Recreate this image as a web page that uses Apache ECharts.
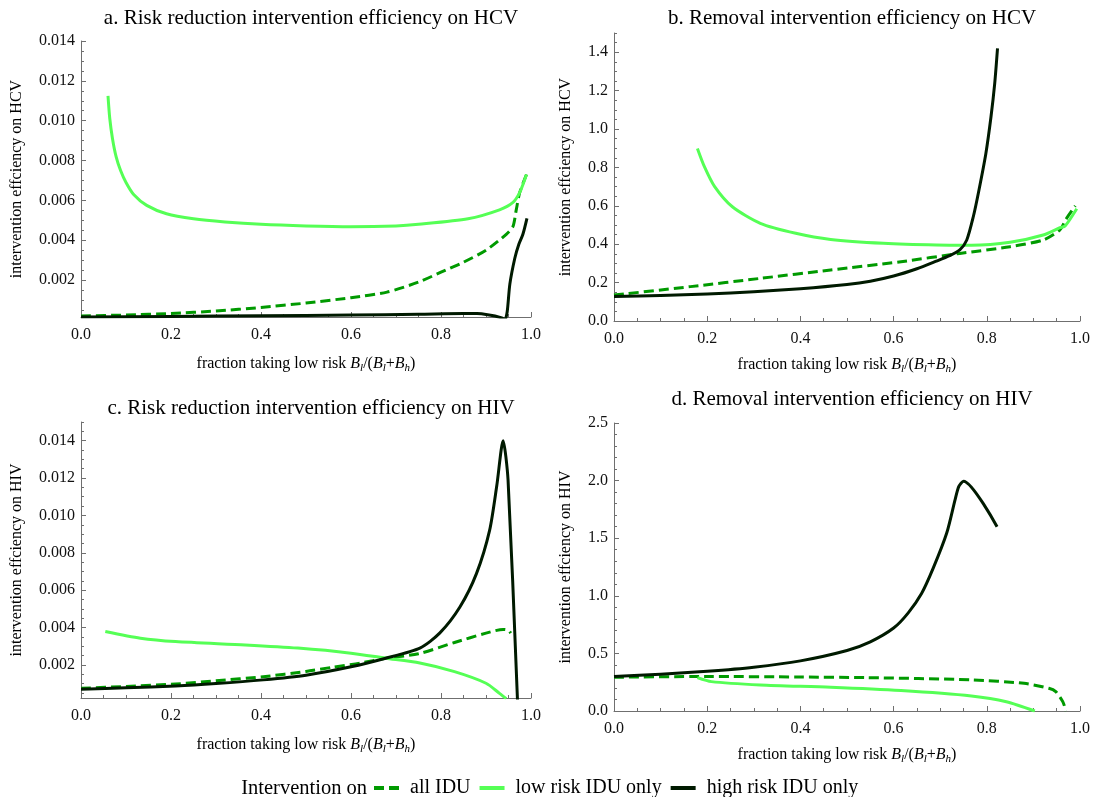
<!DOCTYPE html>
<html>
<head>
<meta charset="utf-8">
<title>Intervention efficiency</title>
<script src="https://cdn.jsdelivr.net/npm/echarts@6/dist/echarts.min.js"></script>
<style>
  html, body { margin: 0; padding: 0; background: #fff; }
  #chart { width: 1101px; height: 797px; }
</style>
</head>
<body>
<div id="chart"></div>
<script>
// ---- data: x = fraction taking low risk, y = intervention efficiency ----
const seriesNames = ['all IDU', 'low risk IDU only', 'high risk IDU only'];

// a. risk reduction, HCV
const hcvRiskAll = [[0, 0.0002], [0.1, 0.00025], [0.2, 0.00033], [0.3, 0.00045], [0.4, 0.00063], [0.5, 0.00085],
  [0.6, 0.00112], [0.68, 0.0014], [0.75, 0.0019], [0.8, 0.0024], [0.85, 0.0029], [0.9, 0.0035], [0.945, 0.0043],
  [0.96, 0.0047], [0.967, 0.0055], [0.975, 0.0064], [0.99, 0.0073]];
const hcvRiskLow = [[0.06, 0.01125], [0.064, 0.0101], [0.07, 0.0091], [0.078, 0.0082], [0.088, 0.0075], [0.1, 0.0069],
  [0.117, 0.0063], [0.146, 0.00575], [0.19, 0.00533], [0.25, 0.00508], [0.32, 0.00492], [0.4, 0.0048], [0.5, 0.00472],
  [0.6, 0.00468], [0.7, 0.00472], [0.75, 0.0048], [0.86, 0.00508], [0.93, 0.00553], [0.96, 0.0059], [0.975, 0.0064],
  [0.99, 0.0073]];
const hcvRiskHigh = [[0, 0.00015], [0.2, 0.00018], [0.4, 0.00021], [0.6, 0.00025], [0.75, 0.00029], [0.85, 0.00033],
  [0.88, 0.00032], [0.9, 0.00028], [0.92, 0.0002], [0.935, 0.0001], [0.942, 0.00002], [0.947, 0.0004], [0.953, 0.0018],
  [0.964, 0.0031], [0.973, 0.0038], [0.982, 0.0043], [0.991, 0.0051]];

// b. removal, HCV
const hcvRemovalAll = [[0, 0.135], [0.164, 0.179], [0.314, 0.222], [0.465, 0.266], [0.616, 0.309], [0.742, 0.352],
  [0.85, 0.387], [0.921, 0.422], [0.957, 0.475], [0.97, 0.53], [0.99, 0.6]];
const hcvRemovalLow = [[0.179, 0.899], [0.194, 0.804], [0.216, 0.7], [0.254, 0.595], [0.314, 0.509], [0.39, 0.457],
  [0.465, 0.425], [0.578, 0.405], [0.692, 0.396], [0.767, 0.395], [0.85, 0.41], [0.921, 0.448], [0.957, 0.486],
  [0.968, 0.495], [0.993, 0.585]];
const hcvRemovalHigh = [[0, 0.127], [0.1, 0.133], [0.2, 0.14], [0.3, 0.152], [0.4, 0.168], [0.5, 0.19], [0.55, 0.207],
  [0.6, 0.234], [0.65, 0.272], [0.69, 0.31], [0.72, 0.34], [0.742, 0.37], [0.757, 0.422], [0.771, 0.543],
  [0.783, 0.68], [0.798, 0.873], [0.809, 1.064], [0.817, 1.238], [0.823, 1.42]];

// c. risk reduction, HIV
const hivRiskAll = [[0, 0.00075], [0.1, 0.00085], [0.21, 0.00098], [0.3, 0.00115], [0.405, 0.00137], [0.5, 0.00165],
  [0.56, 0.00188], [0.62, 0.0021], [0.677, 0.00236], [0.75, 0.0026], [0.83, 0.0032], [0.9, 0.0037], [0.938, 0.0039],
  [0.95, 0.00385], [0.955, 0.0037]];
const hivRiskLow = [[0.054, 0.00379], [0.132, 0.00343], [0.21, 0.00325], [0.365, 0.00307], [0.482, 0.0029],
  [0.6, 0.00263], [0.677, 0.00236], [0.753, 0.0021], [0.83, 0.00164], [0.9, 0.00102], [0.93, 0.00048], [0.945, 0.0002]];
const hivRiskHigh = [[0, 0.0007], [0.1, 0.00078], [0.21, 0.00087], [0.3, 0.001], [0.405, 0.0012], [0.5, 0.00145],
  [0.6, 0.0019], [0.677, 0.00236], [0.753, 0.0029], [0.797, 0.0037], [0.842, 0.0051], [0.879, 0.0069],
  [0.908, 0.0092], [0.924, 0.0116], [0.938, 0.014], [0.949, 0.0119], [0.97, 0.0001]];

// d. removal, HIV
const hivRemovalAll = [[0, 0.293], [0.2, 0.3], [0.4, 0.295], [0.54, 0.29], [0.767, 0.27], [0.88, 0.24],
  [0.933, 0.197], [0.948, 0.168], [0.963, 0.081], [0.97, 0]];
const hivRemovalLow = [[0.179, 0.29], [0.209, 0.255], [0.314, 0.226], [0.465, 0.206], [0.616, 0.177],
  [0.767, 0.13], [0.842, 0.081], [0.903, 0]];
const hivRemovalHigh = [[0, 0.3], [0.1, 0.32], [0.2, 0.345], [0.3, 0.38], [0.4, 0.435], [0.5, 0.525], [0.55, 0.6],
  [0.6, 0.72], [0.631, 0.85], [0.66, 1.02], [0.685, 1.24], [0.714, 1.545], [0.732, 1.835], [0.74, 1.95],
  [0.75, 1.995], [0.822, 1.6]];

// ---- tick labels ----
const hcvRiskTicks = [0.002, 0.004, 0.006, 0.008, 0.010, 0.012, 0.014];
const hcvRemovalTicks = [0, 0.2, 0.4, 0.6, 0.8, 1.0, 1.2, 1.4];
const hivRiskTicks = [0.002, 0.004, 0.006, 0.008, 0.010, 0.012, 0.014];
const hivRemovalTicks = [0, 0.5, 1.0, 1.5, 2.0, 2.5];

const FONT = '"Liberation Serif", "Times New Roman", serif';
const AXIS_COLOR = '#6f6f6f';
const COLORS = ['#009a00', '#55ff55', '#001a00'];

const panels = [
  { title: 'a. Risk reduction intervention efficiency on HCV', yName: 'intervention effciency on HCV',
    grid: { left: 81, top: 41, width: 450, height: 276 }, titleTop: 3, xGap: 37, yGap: 56,
    yMin: 0.00015, yMax: 0.014, ticks: hcvRiskTicks, minorStep: 0.0005, digits: 3,
    data: [hcvRiskAll, hcvRiskLow, hcvRiskHigh] },
  { title: 'b. Removal intervention efficiency on HCV', yName: 'intervention effciency on HCV',
    grid: { left: 614, top: 33, width: 466, height: 288 }, titleTop: 3, xGap: 34, yGap: 40,
    yMin: 0, yMax: 1.5, ticks: hcvRemovalTicks, minorStep: 0.05, digits: 1,
    data: [hcvRemovalAll, hcvRemovalLow, hcvRemovalHigh] },
  { title: 'c. Risk reduction intervention efficiency on HIV', yName: 'intervention effciency on HIV',
    grid: { left: 81, top: 422, width: 450, height: 276 }, titleTop: 393, xGap: 37, yGap: 56,
    yMin: 0.00023, yMax: 0.015, ticks: hivRiskTicks, minorStep: 0.0005, digits: 3,
    data: [hivRiskAll, hivRiskLow, hivRiskHigh] },
  { title: 'd. Removal intervention efficiency on HIV', yName: 'intervention effciency on HIV',
    grid: { left: 614, top: 423, width: 466, height: 288 }, titleTop: 384, xGap: 34, yGap: 40,
    yMin: 0, yMax: 2.5, ticks: hivRemovalTicks, minorStep: 0.1, digits: 1,
    data: [hivRemovalAll, hivRemovalLow, hivRemovalHigh] }
];

// minor tick positions between the labelled ticks
function minorTicks(min, max, step, majors) {
  const out = [];
  const n0 = Math.ceil(min / step - 1e-9), n1 = Math.floor(max / step + 1e-9);
  for (let n = n0; n <= n1; n++) {
    const v = +(n * step).toFixed(6);
    if (!majors.some(m => Math.abs(m - v) < step / 10)) out.push(v);
  }
  return out;
}

const xName = 'fraction taking low risk {i|B}{s|l}/({i|B}{s|l}+{i|B}{s|h})';
const nameRich = {
  i: { fontFamily: FONT, fontSize: 16, fontStyle: 'italic', color: '#000', lineHeight: 20 },
  s: { fontFamily: FONT, fontSize: 11, fontStyle: 'italic', color: '#000', lineHeight: 11, padding: [9, 0, 0, 0] }
};

const option = {
  animation: false,
  backgroundColor: '#fff',
  title: [], grid: [], xAxis: [], yAxis: [], series: [],
  legend: {
    left: 367, top: 773, padding: 5, itemWidth: 25, itemHeight: 14, itemGap: 7, selectedMode: false,
    itemStyle: { opacity: 0 },
    lineStyle: { width: 4 },
    textStyle: { fontFamily: FONT, fontSize: 20, color: '#000', padding: [0, 0, 0, 6] },
    data: seriesNames
  },
  graphic: [{
    type: 'text', x: 367, y: 789,
    style: { text: 'Intervention on', fontFamily: FONT, fontSize: 20.5, fill: '#000',
      align: 'right', verticalAlign: 'middle' }
  }]
};

panels.forEach((p, k) => {
  option.grid.push(Object.assign({ containLabel: false }, p.grid));
  option.title.push({
    text: p.title, left: p.grid.left + p.grid.width / 2, top: p.titleTop, textAlign: 'center',
    textStyle: { fontFamily: FONT, fontSize: 21, fontWeight: 'normal', color: '#000' }
  });
  option.xAxis.push({
    type: 'value', gridIndex: k, min: 0, max: 1, interval: 0.2,
    name: xName, nameLocation: 'middle', nameGap: p.xGap,
    nameTextStyle: { fontFamily: FONT, fontSize: 16, color: '#000', lineHeight: 20, rich: nameRich },
    axisLine: { onZero: false, lineStyle: { color: AXIS_COLOR, width: 1 } },
    axisTick: { inside: true, length: 5, lineStyle: { color: AXIS_COLOR } },
    minorTick: { show: true, splitNumber: 4, length: 3, lineStyle: { color: AXIS_COLOR } },
    axisLabel: { fontFamily: FONT, fontSize: 16, color: '#111', margin: 10, formatter: v => v.toFixed(1) },
    splitLine: { show: false }
  });
  // labelled ticks
  option.yAxis.push({
    type: 'value', gridIndex: k, position: 'left', min: p.yMin, max: p.yMax,
    name: p.yName, nameLocation: 'middle', nameGap: p.yGap, nameRotate: 90,
    nameTextStyle: { fontFamily: FONT, fontSize: 16, color: '#000' },
    axisLine: { show: true, lineStyle: { color: AXIS_COLOR, width: 1 } },
    axisTick: { show: true, inside: true, length: 5, customValues: p.ticks, lineStyle: { color: AXIS_COLOR } },
    axisLabel: { fontFamily: FONT, fontSize: 16, color: '#111', margin: 6, customValues: p.ticks,
      formatter: v => (+v).toFixed(p.digits) },
    splitLine: { show: false }
  });
  // minor ticks
  option.yAxis.push({
    type: 'value', gridIndex: k, position: 'left', offset: 0, min: p.yMin, max: p.yMax,
    axisLine: { show: false },
    axisTick: { show: true, inside: true, length: 3,
      customValues: minorTicks(p.yMin, p.yMax, p.minorStep, p.ticks), lineStyle: { color: AXIS_COLOR } },
    axisLabel: { show: false },
    splitLine: { show: false }
  });
  p.data.forEach((d, j) => {
    option.series.push({
      type: 'line', name: seriesNames[j], xAxisIndex: k, yAxisIndex: 2 * k, data: d,
      showSymbol: false, symbol: 'none', smooth: 0.25, clip: true, z: 2 + j,
      color: COLORS[j],
      lineStyle: { color: COLORS[j], width: 3, type: j === 0 ? [10, 5] : 'solid', join: 'round', cap: 'butt' }
    });
  });
});

const chart = echarts.init(document.getElementById('chart'), null, { renderer: 'canvas' });
chart.setOption(option);
</script>
</body>
</html>
